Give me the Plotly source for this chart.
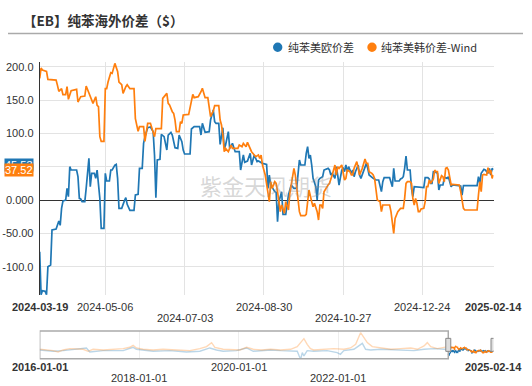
import plotly.graph_objects as go

# ---------------- data ----------------
eu_dates = ["2024-03-19","2024-03-20","2024-03-21","2024-03-23","2024-03-24","2024-03-25","2024-03-27","2024-03-28","2024-03-31","2024-04-01","2024-04-02","2024-04-03","2024-04-04","2024-04-05","2024-04-07","2024-04-08","2024-04-09","2024-04-10","2024-04-11","2024-04-15","2024-04-16","2024-04-17","2024-04-18","2024-04-19","2024-04-21","2024-04-22","2024-04-24","2024-04-25","2024-04-26","2024-04-28","2024-04-29","2024-04-30","2024-05-02","2024-05-03","2024-05-05","2024-05-06","2024-05-07","2024-05-09","2024-05-10","2024-05-11","2024-05-13","2024-05-14","2024-05-15","2024-05-16","2024-05-18","2024-05-20","2024-05-21","2024-05-22","2024-05-24","2024-05-27","2024-05-28","2024-05-30","2024-05-31","2024-06-02","2024-06-03","2024-06-04","2024-06-06","2024-06-08","2024-06-10","2024-06-11","2024-06-12","2024-06-13","2024-06-15","2024-06-16","2024-06-17","2024-06-18","2024-06-20","2024-06-21","2024-06-23","2024-06-24","2024-06-26","2024-06-28","2024-06-29","2024-07-01","2024-07-02","2024-07-03","2024-07-07","2024-07-08","2024-07-10","2024-07-14","2024-07-15","2024-07-16","2024-07-18","2024-07-21","2024-07-22","2024-07-24","2024-07-25","2024-07-26","2024-07-28","2024-07-29","2024-07-31","2024-08-01","2024-08-02","2024-08-04","2024-08-05","2024-08-07","2024-08-09","2024-08-12","2024-08-13","2024-08-15","2024-08-16","2024-08-18","2024-08-20","2024-08-21","2024-08-23","2024-08-25","2024-08-26","2024-08-28","2024-08-29","2024-09-01","2024-09-02","2024-09-03","2024-09-04","2024-09-07","2024-09-08","2024-09-09","2024-09-10","2024-09-12","2024-09-13","2024-09-15","2024-09-16","2024-09-17","2024-09-19","2024-09-21","2024-09-23","2024-09-24","2024-09-25","2024-09-26","2024-09-29","2024-09-30","2024-10-01","2024-10-02","2024-10-03","2024-10-04","2024-10-05","2024-10-07","2024-10-08","2024-10-09","2024-10-10","2024-10-12","2024-10-13","2024-10-16","2024-10-17","2024-10-18","2024-10-19","2024-10-21","2024-10-22","2024-10-23","2024-10-24","2024-10-26","2024-10-27","2024-10-28","2024-10-29","2024-10-30","2024-10-31","2024-11-02","2024-11-03","2024-11-04","2024-11-05","2024-11-07","2024-11-08","2024-11-09","2024-11-10","2024-11-11","2024-11-13","2024-11-14","2024-11-15","2024-11-18","2024-11-20","2024-11-22","2024-11-24","2024-11-25","2024-11-26","2024-11-30","2024-12-01","2024-12-02","2024-12-03","2024-12-04","2024-12-07","2024-12-08","2024-12-09","2024-12-10","2024-12-11","2024-12-12","2024-12-13","2024-12-15","2024-12-16","2024-12-17","2024-12-18","2024-12-21","2024-12-25","2024-12-26","2024-12-28","2024-12-29","2024-12-30","2024-12-31","2025-01-01","2025-01-03","2025-01-04","2025-01-05","2025-01-06","2025-01-08","2025-01-09","2025-01-10","2025-01-11","2025-01-12","2025-01-14","2025-01-15","2025-01-21","2025-01-22","2025-01-23","2025-02-02","2025-02-03","2025-02-04","2025-02-05","2025-02-07","2025-02-08","2025-02-10","2025-02-11","2025-02-12","2025-02-13","2025-02-14"]
eu_values = [-77.5,-142,-136,-137,-142,-100,-97.5,-45,-43.5,-37.5,-31.5,-38,-12.5,-1.5,0,17.5,5,50,45,45,35,2.5,1.5,-2.5,-2.5,17.5,62.5,20,40,40,32.5,45,2.5,-42.5,-42.5,40,28.5,28.5,45,45,52.5,53.5,32.5,-12.5,-12.5,-1,3.5,-6.5,-15.5,-15.5,7.5,8.5,47.5,47.5,85,95,108.5,109.5,102.5,67.5,3.5,60,61,98.5,96.5,95,75,97.5,101.5,97.5,78.5,77.5,97.5,87.5,75,69,69,106.5,110,110,97.5,115,101.5,102.5,120,135,117.5,115,115,83.5,108.5,77.5,82.5,102.5,77.5,85,72.5,72.5,45,67.5,56.5,58.5,70,52.5,67.5,57.5,58.5,56.5,55,53.5,17.5,37.5,22.5,12.5,11.5,-32.5,-2.5,12.5,-21.5,-21.5,-7.5,7.5,22.5,17.5,17.5,37.5,60,52.5,52.5,70,80,62.5,67.5,52.5,32.5,20,0,30,32.5,35,45,47.5,45,37.5,40,32.5,50,37.5,22.5,45,47.5,42.5,52.5,42.5,50,40,45,35,42.5,52.5,37.5,32.5,37.5,42.5,55,47.5,37.5,32.5,30,30,12.5,27.5,33.5,33.5,27.5,20,47.5,28.5,28.5,31.5,32.5,35,47.5,66,45,45,17.5,5,20,19,18.5,33.5,33.5,31.5,25,25,42.5,41.5,40,15,22.5,22.5,32.5,33.5,32.5,35,20,22.5,21,7.5,21.5,21.5,35,25,40,46,45,40,47.5,37.5,47.5,45.53]

kr_dates = ["2024-03-19","2024-03-20","2024-03-21","2024-03-24","2024-03-25","2024-03-31","2024-04-01","2024-04-02","2024-04-04","2024-04-05","2024-04-07","2024-04-08","2024-04-09","2024-04-11","2024-04-15","2024-04-16","2024-04-18","2024-04-21","2024-04-22","2024-04-24","2024-04-27","2024-04-29","2024-04-30","2024-05-01","2024-05-02","2024-05-03","2024-05-05","2024-05-06","2024-05-07","2024-05-08","2024-05-10","2024-05-11","2024-05-13","2024-05-15","2024-05-16","2024-05-18","2024-05-19","2024-05-21","2024-05-22","2024-05-24","2024-05-27","2024-05-28","2024-05-30","2024-05-31","2024-06-03","2024-06-04","2024-06-06","2024-06-08","2024-06-11","2024-06-12","2024-06-16","2024-06-17","2024-06-18","2024-06-20","2024-06-21","2024-06-22","2024-06-24","2024-06-25","2024-06-26","2024-06-27","2024-06-29","2024-06-30","2024-07-01","2024-07-02","2024-07-06","2024-07-08","2024-07-09","2024-07-10","2024-07-13","2024-07-15","2024-07-16","2024-07-18","2024-07-20","2024-07-22","2024-07-23","2024-07-24","2024-07-25","2024-07-28","2024-07-29","2024-07-30","2024-07-31","2024-08-01","2024-08-02","2024-08-04","2024-08-05","2024-08-06","2024-08-07","2024-08-11","2024-08-12","2024-08-14","2024-08-15","2024-08-17","2024-08-18","2024-08-20","2024-08-21","2024-08-23","2024-08-24","2024-08-26","2024-08-27","2024-08-28","2024-08-29","2024-08-31","2024-09-02","2024-09-03","2024-09-04","2024-09-05","2024-09-07","2024-09-08","2024-09-09","2024-09-11","2024-09-12","2024-09-13","2024-09-14","2024-09-15","2024-09-17","2024-09-18","2024-09-20","2024-09-21","2024-09-22","2024-09-24","2024-09-25","2024-09-26","2024-09-29","2024-09-30","2024-10-01","2024-10-02","2024-10-04","2024-10-05","2024-10-06","2024-10-07","2024-10-08","2024-10-09","2024-10-10","2024-10-11","2024-10-12","2024-10-13","2024-10-15","2024-10-16","2024-10-17","2024-10-18","2024-10-19","2024-10-21","2024-10-22","2024-10-23","2024-10-24","2024-10-26","2024-10-27","2024-10-28","2024-10-29","2024-10-30","2024-11-01","2024-11-02","2024-11-03","2024-11-04","2024-11-06","2024-11-07","2024-11-08","2024-11-09","2024-11-10","2024-11-12","2024-11-13","2024-11-14","2024-11-15","2024-11-17","2024-11-18","2024-11-19","2024-11-20","2024-11-21","2024-11-23","2024-11-24","2024-11-25","2024-11-30","2024-12-01","2024-12-02","2024-12-03","2024-12-04","2024-12-05","2024-12-06","2024-12-08","2024-12-10","2024-12-11","2024-12-12","2024-12-13","2024-12-15","2024-12-16","2024-12-17","2024-12-18","2024-12-19","2024-12-20","2024-12-21","2024-12-22","2024-12-23","2024-12-25","2024-12-26","2024-12-27","2024-12-28","2024-12-29","2024-12-30","2025-01-01","2025-01-02","2025-01-03","2025-01-04","2025-01-05","2025-01-06","2025-01-07","2025-01-08","2025-01-09","2025-01-10","2025-01-11","2025-01-12","2025-01-13","2025-01-14","2025-01-15","2025-01-20","2025-01-21","2025-01-23","2025-01-24","2025-02-02","2025-02-03","2025-02-04","2025-02-05","2025-02-06","2025-02-07","2025-02-09","2025-02-10","2025-02-11","2025-02-12","2025-02-13","2025-02-14"]
kr_values = [182.5,198,195,193,181,180,172,163,167,158,158,170,151,164,166,147,155,156,171,161,145,155,142,140,95,88,88,167,167,177,191,190,205,193,177,173,160,170,173,167,167,122,103,110,110,88,115,115,95,107,107,152.5,155,160,145,142.5,132.5,130,120,102.5,102.5,117.5,115,127.5,128.5,152.5,158.5,153.5,155,162.5,167.5,153.5,153.5,125,128.5,133.5,141.5,141.5,120,112.5,97.5,72.5,77.5,72.5,77.5,82.5,77.5,77.5,82.5,80,85,80,86.5,75,72.5,67.5,65,67.5,62.5,67.5,52.5,37.5,12.5,-2.5,27.5,17.5,27.5,25,12.5,-17.5,-7.5,-12.5,-20,-2.5,-15,10,37.5,47.5,37.5,-2.5,-17.5,-23.5,-23.5,-21.5,-2.5,15,-2.5,-10,-5,-12.5,-17.5,-30,-7.5,-7.5,-12.5,12.5,20,22.5,25,30,37.5,52.5,37.5,50,47.5,52.5,40,30,32.5,45,42.5,37.5,37.5,47.5,57.5,47.5,37.5,42.5,47.5,61.5,55,55,42.5,40,37.5,32.5,15,0,-2.5,-17.5,-7.5,-7.5,-17.5,-37.5,-50,-27.5,-22.5,-17.5,-12.5,-12.5,2.5,25,27.5,27.5,25,2.5,-7.5,2.5,-5,-17.5,-17.5,-13.5,-12.5,-2.5,20,20,30,25,31.5,45,42.5,42.5,25,32.5,36.5,35,27.5,47.5,48.5,45,32.5,22.5,23.5,22.5,12.5,-12.5,-15,-15,7.5,27.5,12.5,37.5,38.5,37.5,48.5,40,45,32.5,37.52]

# long history shown in the overview strip
hist_kr_dates = ["2016-01-01","2016-02-19","2016-04-08","2016-05-15","2016-06-21","2016-08-09","2016-09-27","2016-11-15","2016-12-21","2017-01-27","2017-04-11","2017-06-23","2017-09-05","2017-10-23","2017-11-17","2017-12-11","2018-01-29","2018-04-13","2018-06-25","2018-10-01","2019-01-07","2019-03-22","2019-05-10","2019-06-16","2019-07-10","2019-09-09","2019-11-22","2020-01-10","2020-02-28","2020-04-17","2020-06-20","2020-08-22","2020-11-04","2021-01-16","2021-03-06","2021-03-31","2021-04-24","2021-05-18","2021-06-11","2021-07-05","2021-09-17","2021-11-29","2022-02-11","2022-04-01","2022-05-09","2022-06-02","2022-06-14","2022-07-09","2022-08-02","2022-09-08","2022-11-08","2023-01-21","2023-04-04","2023-06-17","2023-08-05","2023-09-23","2023-10-17","2023-11-11","2023-12-30","2024-02-17","2024-03-18"]
hist_kr_values = [95,71,47,0,71,118,95,95,24,95,71,95,118,165,236,142,95,71,95,71,47,118,189,331,165,95,71,71,165,95,71,95,71,95,189,331,473,272,118,71,95,118,95,142,272,567,686,508,331,189,142,95,118,142,95,213,331,189,118,165,189]
hist_eu_dates = ["2016-01-01","2016-04-08","2016-06-21","2016-08-09","2016-12-09","2017-01-03","2017-04-11","2017-09-05","2017-11-17","2017-12-11","2018-04-13","2018-08-13","2018-12-14","2019-03-22","2019-06-03","2019-07-22","2019-09-09","2019-12-16","2020-02-28","2020-04-17","2020-06-20","2020-08-22","2020-11-04","2021-01-16","2021-03-06","2021-03-18","2021-03-31","2021-04-12","2021-04-24","2021-05-18","2021-07-05","2021-10-11","2021-12-24","2022-01-17","2022-02-11","2022-04-26","2022-06-02","2022-06-27","2022-07-21","2022-08-27","2022-11-08","2023-02-14","2023-05-23","2023-07-11","2023-09-23","2023-12-05","2024-02-17","2024-03-18"]
hist_eu_values = [71,24,47,71,142,0,47,47,165,95,24,47,0,24,142,71,24,47,142,24,47,71,47,24,24,-118,-260,-24,-142,47,24,47,-24,-83,47,95,213,307,95,71,95,71,71,47,95,118,95,95]

main_ticks = ["2024-03-19","2024-05-06","2024-07-03","2024-08-30","2024-10-27","2024-12-24","2025-02-14"]
main_tick_rows = [1, 1, 2, 1, 2, 1, 1]
y_tickvals = [-100, -50, 0, 50, 100, 150, 200]
y_ticktext = ["-100.0", "-50.00", "0.000", "50.00", "100.0", "150.0", "200.0"]
mini_ticks = ["2016-01-01","2018-01-01","2020-01-01","2022-01-01","2025-02-14"]
mini_tick_rows = [1, 2, 1, 2, 1]

name_eu = "纯苯美欧价差"
name_kr = "纯苯美韩价差-Wind"
title_text = "【EB】纯苯海外价差（$）"
watermark = "紫金天风期货"

# ---------------- styling ----------------
W, H = 532, 386
BLUE = "#1f77b4"
ORANGE = "#ff7f0e"
FONT = "Liberation Sans, Arial, Noto Sans CJK SC, sans-serif"
CJK = "Noto Sans CJK SC, Liberation Sans, sans-serif"
TXT = "#333333"

def px(xp):
    return xp / W

def py(yp):
    return 1 - yp / H

XDOM = [px(39.7), px(493.5)]

fig = go.Figure()
# overview (faded history)
fig.add_trace(go.Scatter(x=hist_eu_dates, y=hist_eu_values, mode="lines", xaxis="x2", yaxis="y2",
                         line=dict(color="rgba(31,119,180,0.3)", width=1.4), hoverinfo="skip"))
fig.add_trace(go.Scatter(x=hist_kr_dates, y=hist_kr_values, mode="lines", xaxis="x2", yaxis="y2",
                         line=dict(color="rgba(255,127,14,0.3)", width=1.4), hoverinfo="skip"))
# overview (selected window, full colour)
fig.add_trace(go.Scatter(x=eu_dates, y=eu_values, mode="lines", xaxis="x2", yaxis="y2",
                         line=dict(color=BLUE, width=1.3), hoverinfo="skip"))
fig.add_trace(go.Scatter(x=kr_dates, y=kr_values, mode="lines", xaxis="x2", yaxis="y2",
                         line=dict(color=ORANGE, width=1.3), hoverinfo="skip"))
# main
fig.add_trace(go.Scatter(x=eu_dates, y=eu_values, mode="lines", name=name_eu,
                         line=dict(color=BLUE, width=1.7)))
fig.add_trace(go.Scatter(x=kr_dates, y=kr_values, mode="lines", name=name_kr,
                         line=dict(color=ORANGE, width=1.7)))

fig.update_layout(
    width=W, height=H, margin=dict(l=0, r=0, t=0, b=0),
    paper_bgcolor="white", plot_bgcolor="white", showlegend=False,
    font=dict(family=FONT, size=11, color=TXT),
    xaxis=dict(domain=XDOM, type="date", range=[eu_dates[0], eu_dates[-1]],
               tickvals=main_ticks, showticklabels=False, ticks="",
               showgrid=True, gridcolor="#e3e3e3", gridwidth=1, zeroline=False, showline=False,
               anchor="y"),
    yaxis=dict(domain=[py(295), py(61.7)], range=[-142.5, 207.5],
               tickvals=y_tickvals, ticktext=y_ticktext, ticks="",
               tickfont=dict(size=11, color=TXT), ticklabelstandoff=3,
               showgrid=True, gridcolor="#e3e3e3", gridwidth=1,
               zeroline=True, zerolinecolor="#333333", zerolinewidth=1,
               showline=True, linecolor="#333333", linewidth=1, anchor="x"),
    xaxis2=dict(domain=XDOM, type="date", range=[hist_eu_dates[0], eu_dates[-1]],
                tickvals=mini_ticks[1:4], showticklabels=False, ticks="",
                showgrid=True, gridcolor="#eeeeee", zeroline=False, showline=False, anchor="y2"),
    yaxis2=dict(domain=[py(358.7), py(331)], range=[-240, 745], showgrid=False,
                showticklabels=False, zeroline=False, showline=False, ticks="", anchor="x2"),
)

shapes = []
# title underline
shapes.append(dict(type="line", xref="paper", yref="paper", x0=px(8), x1=px(523), y0=py(33.5), y1=py(33.5),
                   line=dict(color="#aaaaaa", width=1.5)))
# overview frame
shapes.append(dict(type="rect", xref="x2", yref="y2 domain", x0=hist_eu_dates[0], x1=eu_dates[0], y0=0, y1=1,
                   line=dict(color="#aaaaaa", width=1.5), layer="above"))
# handles
for d in (eu_dates[0], eu_dates[-1]):
    shapes.append(dict(type="rect", xref="x2", yref="y2 domain", xsizemode="pixel", xanchor=d, x0=-2.5, x1=2.5,
                       ysizemode="pixel", yanchor=0.5, y0=-6.5, y1=6.5,
                       fillcolor="#dddddd", line=dict(color="#888888", width=1), layer="above"))
# legend circles
for cx, col in ((277.7, BLUE), (372, ORANGE)):
    shapes.append(dict(type="circle", xref="paper", yref="paper", xsizemode="pixel", ysizemode="pixel",
                       xanchor=px(cx), yanchor=py(47.3), x0=-4.7, x1=4.7, y0=-4.7, y1=4.7,
                       fillcolor=col, line=dict(width=0)))
fig.update_layout(shapes=shapes)

ann = []
ann.append(dict(text="<b>" + title_text + "</b>", xref="paper", yref="paper", x=px(21), y=py(20.5),
                xanchor="left", yanchor="middle", showarrow=False, font=dict(family=CJK, size=13.5, color=TXT)))
ann.append(dict(text=name_eu, xref="paper", yref="paper", x=px(285.5), y=py(47.3), xanchor="left", yanchor="middle",
                showarrow=False, font=dict(family=CJK, size=11, color=TXT)))
ann.append(dict(text=name_kr, xref="paper", yref="paper", x=px(379), y=py(47.3), xanchor="left", yanchor="middle",
                showarrow=False, font=dict(family=CJK, size=11, color=TXT)))
ann.append(dict(text=watermark, xref="paper", yref="paper", x=px(266), y=py(185), xanchor="center", yanchor="middle",
                showarrow=False, font=dict(family=CJK, size=22, color="rgba(140,140,140,0.35)")))
# main x tick labels
for i, (d, r) in enumerate(zip(main_ticks, main_tick_rows)):
    t = "<b>%s</b>" % d if i in (0, len(main_ticks) - 1) else d
    ann.append(dict(text=t, xref="x", yref="paper", x=d, y=py(306.7 if r == 1 else 317.5),
                    xanchor="center", yanchor="middle", showarrow=False, font=dict(size=11, color=TXT)))
# overview tick labels
for i, (d, r) in enumerate(zip(mini_ticks, mini_tick_rows)):
    t = "<b>%s</b>" % d if i in (0, len(mini_ticks) - 1) else d
    ann.append(dict(text=t, xref="x2", yref="paper", x=d, y=py(366.8 if r == 1 else 378),
                    xanchor="center", yanchor="middle", showarrow=False, font=dict(size=11, color=TXT)))
# last value labels on the y axis
for vals, col in ((eu_values, BLUE), (kr_values, ORANGE)):
    ann.append(dict(text="%.2f" % vals[-1], xref="paper", yref="y", x=px(4), y=vals[-1], yshift=4.7,
                    xanchor="left", yanchor="middle", showarrow=False, bgcolor=col, borderpad=0,
                    font=dict(size=11, color="white")))
fig.update_layout(annotations=ann)

fig.write_html("out.html", config={"displayModeBar": False},
               post_script="document.body.style.margin='0px';document.body.style.overflow='hidden';")
